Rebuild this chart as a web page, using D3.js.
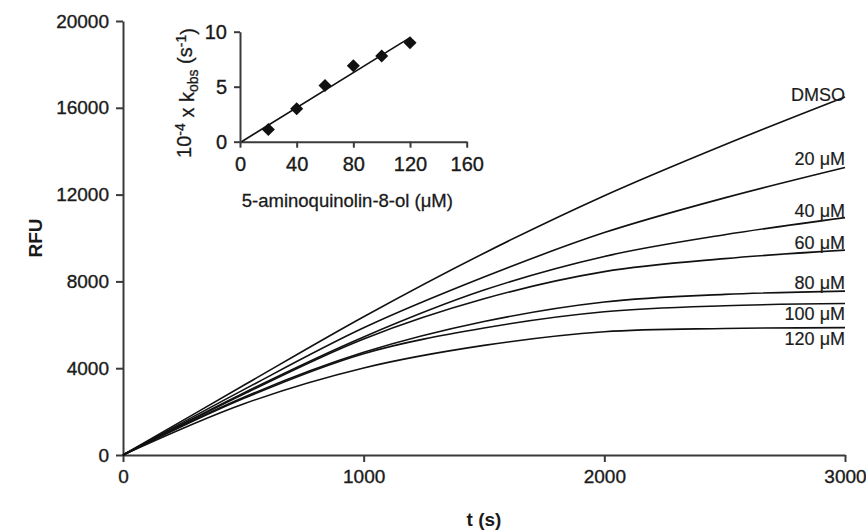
<!DOCTYPE html>
<html><head><meta charset="utf-8">
<script src="https://cdn.jsdelivr.net/npm/d3@7"></script>
<style>
body{margin:0;background:#fff}
svg{display:block}
text{font-family:"Liberation Sans",Arial,Helvetica,sans-serif;fill:#1a1a1a}
</style>
</head><body>
<svg id="chart" width="866" height="531"></svg>
<script>
// ---------- data ----------
const times = [0, 500, 1000, 1500, 2000, 2500, 3000];
const seriesNames = ["DMSO", "20 μM", "40 μM", "60 μM", "80 μM", "100 μM", "120 μM"];
const rfuDMSO = [0, 3200, 6370, 9300, 11950, 14300, 16500];
const rfu20   = [0, 3000, 5860, 8200, 10250, 11850, 13250];
const rfu40   = [0, 2850, 5440, 7600, 9150, 10150, 10940];
const rfu60   = [0, 2800, 5350, 7200, 8450, 9050, 9440];
const rfu80   = [0, 2650, 4730, 6150, 7050, 7400, 7550];
const rfu100  = [0, 2600, 4670, 5850, 6600, 6880, 6980];
const rfu120  = [0, 2350, 4010, 5050, 5680, 5830, 5870];
const xTicks = [0, 1000, 2000, 3000];
const yTicks = [0, 4000, 8000, 12000, 16000, 20000];

const insetConc = [20, 40, 60, 80, 100, 120];
const insetKobs = [1.1, 3.0, 5.1, 6.9, 7.8, 9.0];
const insetXTicks = [0, 40, 80, 120, 160];
const insetYTicks = [0, 5, 10];

// ---------- layout ----------
const allSeries = [rfuDMSO, rfu20, rfu40, rfu60, rfu80, rfu100, rfu120];
const labelBaselineOffset = [4, -2, -1, -1, -2, 16, 17]; // px relative to curve end
const svg = d3.select("#chart");
const axisColor = "#3a3a3a";

const x = d3.scaleLinear().domain([0, 3000]).range([123, 845]);
const y = d3.scaleLinear().domain([0, 20000]).range([455, 21]);

function styleAxis(g, fs) {
  g.selectAll("path.domain").attr("stroke", axisColor).attr("stroke-width", 2);
  g.selectAll(".tick line").attr("stroke", axisColor).attr("stroke-width", 2);
  g.selectAll(".tick text").attr("fill", "#1a1a1a").style("font-size", (fs || 19) + "px")
   .style("font-family", '"Liberation Sans",Arial,sans-serif')
   .attr("stroke", "#1a1a1a").attr("stroke-width", 0.35);
}

const gx = svg.append("g").attr("transform", `translate(0,${y(0)})`)
  .call(d3.axisBottom(x).tickValues(xTicks).tickSize(7).tickSizeOuter(0).tickPadding(8).tickFormat(d3.format("d")));
styleAxis(gx);
gx.selectAll(".tick text").attr("dy", "0.71em");

const gy = svg.append("g").attr("transform", `translate(${x(0)},0)`)
  .call(d3.axisLeft(y).tickValues(yTicks).tickSize(7).tickSizeOuter(0).tickPadding(7).tickFormat(d3.format("d")));
styleAxis(gy);

// curves
const line = d3.line().x((d, i) => x(times[i])).y(d => y(d)).curve(d3.curveCatmullRom.alpha(0.5));
allSeries.forEach((s, k) => {
  svg.append("path").datum(s).attr("d", line)
    .attr("fill", "none").attr("stroke", "#111").attr("stroke-width", 1.6);
  svg.append("text")
    .attr("x", x(3000)).attr("y", y(s[s.length - 1]) + labelBaselineOffset[k])
    .attr("text-anchor", "end").style("font-size", "18px").attr("fill", "#333")
    .attr("stroke", "#333").attr("stroke-width", 0.2)
    .text(seriesNames[k]);
});

// axis titles
svg.append("text").attr("x", x(1500)).attr("y", 526).attr("text-anchor", "middle")
  .style("font-size", "19px").style("font-weight", "bold").text("t (s)");
svg.append("text").attr("transform", `translate(42,${(y(0)+y(20000))/2}) rotate(-90)`)
  .attr("text-anchor", "middle").style("font-size", "19px").style("font-weight", "bold").text("RFU");

// ---------- inset ----------
const ix = d3.scaleLinear().domain([0, 160]).range([240, 466.7]);
const iy = d3.scaleLinear().domain([0, 10]).range([141.7, 31.7]);

const igx = svg.append("g").attr("transform", `translate(0,${iy(0)})`)
  .call(d3.axisBottom(ix).tickValues(insetXTicks).tickSize(6).tickSizeOuter(0).tickPadding(9));
styleAxis(igx, 20);
igx.selectAll(".tick text").attr("dy", "0.71em");
const igy = svg.append("g").attr("transform", `translate(${ix(0)},0)`)
  .call(d3.axisLeft(iy).tickValues(insetYTicks).tickSize(6).tickSizeOuter(0).tickPadding(7));
styleAxis(igy, 20);

// linear fit
const mx = d3.mean(insetConc), my = d3.mean(insetKobs);
const slope = d3.sum(insetConc.map((c, i) => (c - mx) * (insetKobs[i] - my))) /
              d3.sum(insetConc.map(c => (c - mx) ** 2));
const icpt = my - slope * mx;
const x0 = -icpt / slope, x1 = 120;
svg.append("line")
  .attr("x1", ix(x0)).attr("y1", iy(0)).attr("x2", ix(x1)).attr("y2", iy(icpt + slope * x1))
  .attr("stroke", "#111").attr("stroke-width", 1.6);

svg.selectAll("path.pt").data(insetConc).enter().append("path").attr("class", "pt")
  .attr("d", d3.symbol().type(d3.symbolSquare).size(85))
  .attr("transform", (d, i) => `translate(${ix(d)},${iy(insetKobs[i])}) rotate(45)`)
  .attr("fill", "#111");

svg.append("text").attr("x", (ix(0) + ix(160)) / 2 - 6).attr("y", 207).attr("text-anchor", "middle")
  .style("font-size", "18.5px").attr("stroke", "#1a1a1a").attr("stroke-width", 0.3)
  .text("5-aminoquinolin-8-ol (μM)");

const yl = svg.append("text").attr("transform", `translate(191,93) rotate(-90)`)
  .attr("text-anchor", "middle").style("font-size", "20px")
  .attr("stroke", "#1a1a1a").attr("stroke-width", 0.3);
yl.append("tspan").text("10");
yl.append("tspan").attr("dy", "-0.45em").style("font-size", "14px").text("-4");
yl.append("tspan").attr("dy", "0.45em").text(" x k");
yl.append("tspan").attr("dy", "0.3em").style("font-size", "14px").text("obs");
yl.append("tspan").attr("dy", "-0.3em").text(" (s");
yl.append("tspan").attr("dy", "-0.45em").style("font-size", "14px").text("-1");
yl.append("tspan").attr("dy", "0.45em").text(")");
</script>
</body></html>
